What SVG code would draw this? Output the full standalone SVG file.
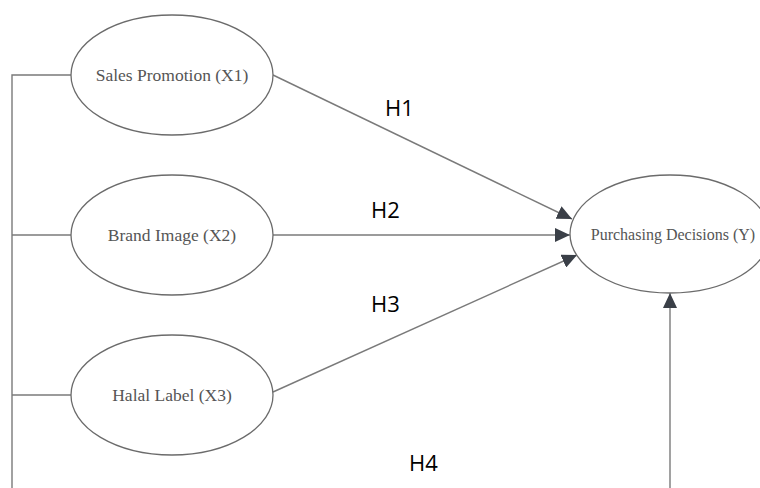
<svg xmlns="http://www.w3.org/2000/svg" width="760" height="488" viewBox="0 0 760 488">
<defs>
<style>
.node ellipse{fill:#fff;stroke:#6b6b6b;stroke-width:1.3}
.node text{font-family:"Liberation Serif","DejaVu Serif",serif;font-size:17.5px;fill:#555;text-anchor:middle}
.conn line,.conn polyline{stroke:#7a7a7a;stroke-width:1.4;fill:none}
.lbl{font-family:"Open Sans","Noto Sans",sans-serif;font-size:22px;fill:#000}
</style>
<marker id="ah" markerUnits="userSpaceOnUse" markerWidth="16" markerHeight="14" refX="15" refY="7" orient="auto">
<path d="M0,0 L15,7 L0,14 Z" fill="#3a3f47"/>
</marker>
</defs>
<g id="connectors" class="conn">
<polyline points="71,75 12,75 12,488"/>
<line x1="12" y1="235" x2="71" y2="235"/>
<line x1="12" y1="395" x2="71" y2="395"/>
<line x1="273" y1="75" x2="572" y2="219" marker-end="url(#ah)"/>
<line x1="273" y1="235" x2="570" y2="235" marker-end="url(#ah)"/>
<line x1="273" y1="392" x2="577" y2="255" marker-end="url(#ah)"/>
<line x1="670" y1="488" x2="670" y2="293" marker-end="url(#ah)"/>
</g>
<g id="x1" class="node"><ellipse cx="172" cy="75" rx="101" ry="60"/><text x="172" y="81">Sales Promotion (X1)</text></g>
<g id="x2" class="node"><ellipse cx="172" cy="235" rx="101" ry="60"/><text x="172" y="241">Brand Image (X2)</text></g>
<g id="x3" class="node"><ellipse cx="172" cy="395" rx="101" ry="60"/><text x="172" y="401">Halal Label (X3)</text></g>
<g id="y" class="node"><ellipse cx="670" cy="234" rx="100" ry="59"/><text x="673" y="240" style="font-size:16px">Purchasing Decisions (Y)</text></g>
<g id="labels">
<text class="lbl" x="385" y="116">H1</text>
<text class="lbl" x="371" y="218">H2</text>
<text class="lbl" x="371" y="312">H3</text>
<text class="lbl" x="409" y="471">H4</text>
</g>
</svg>
